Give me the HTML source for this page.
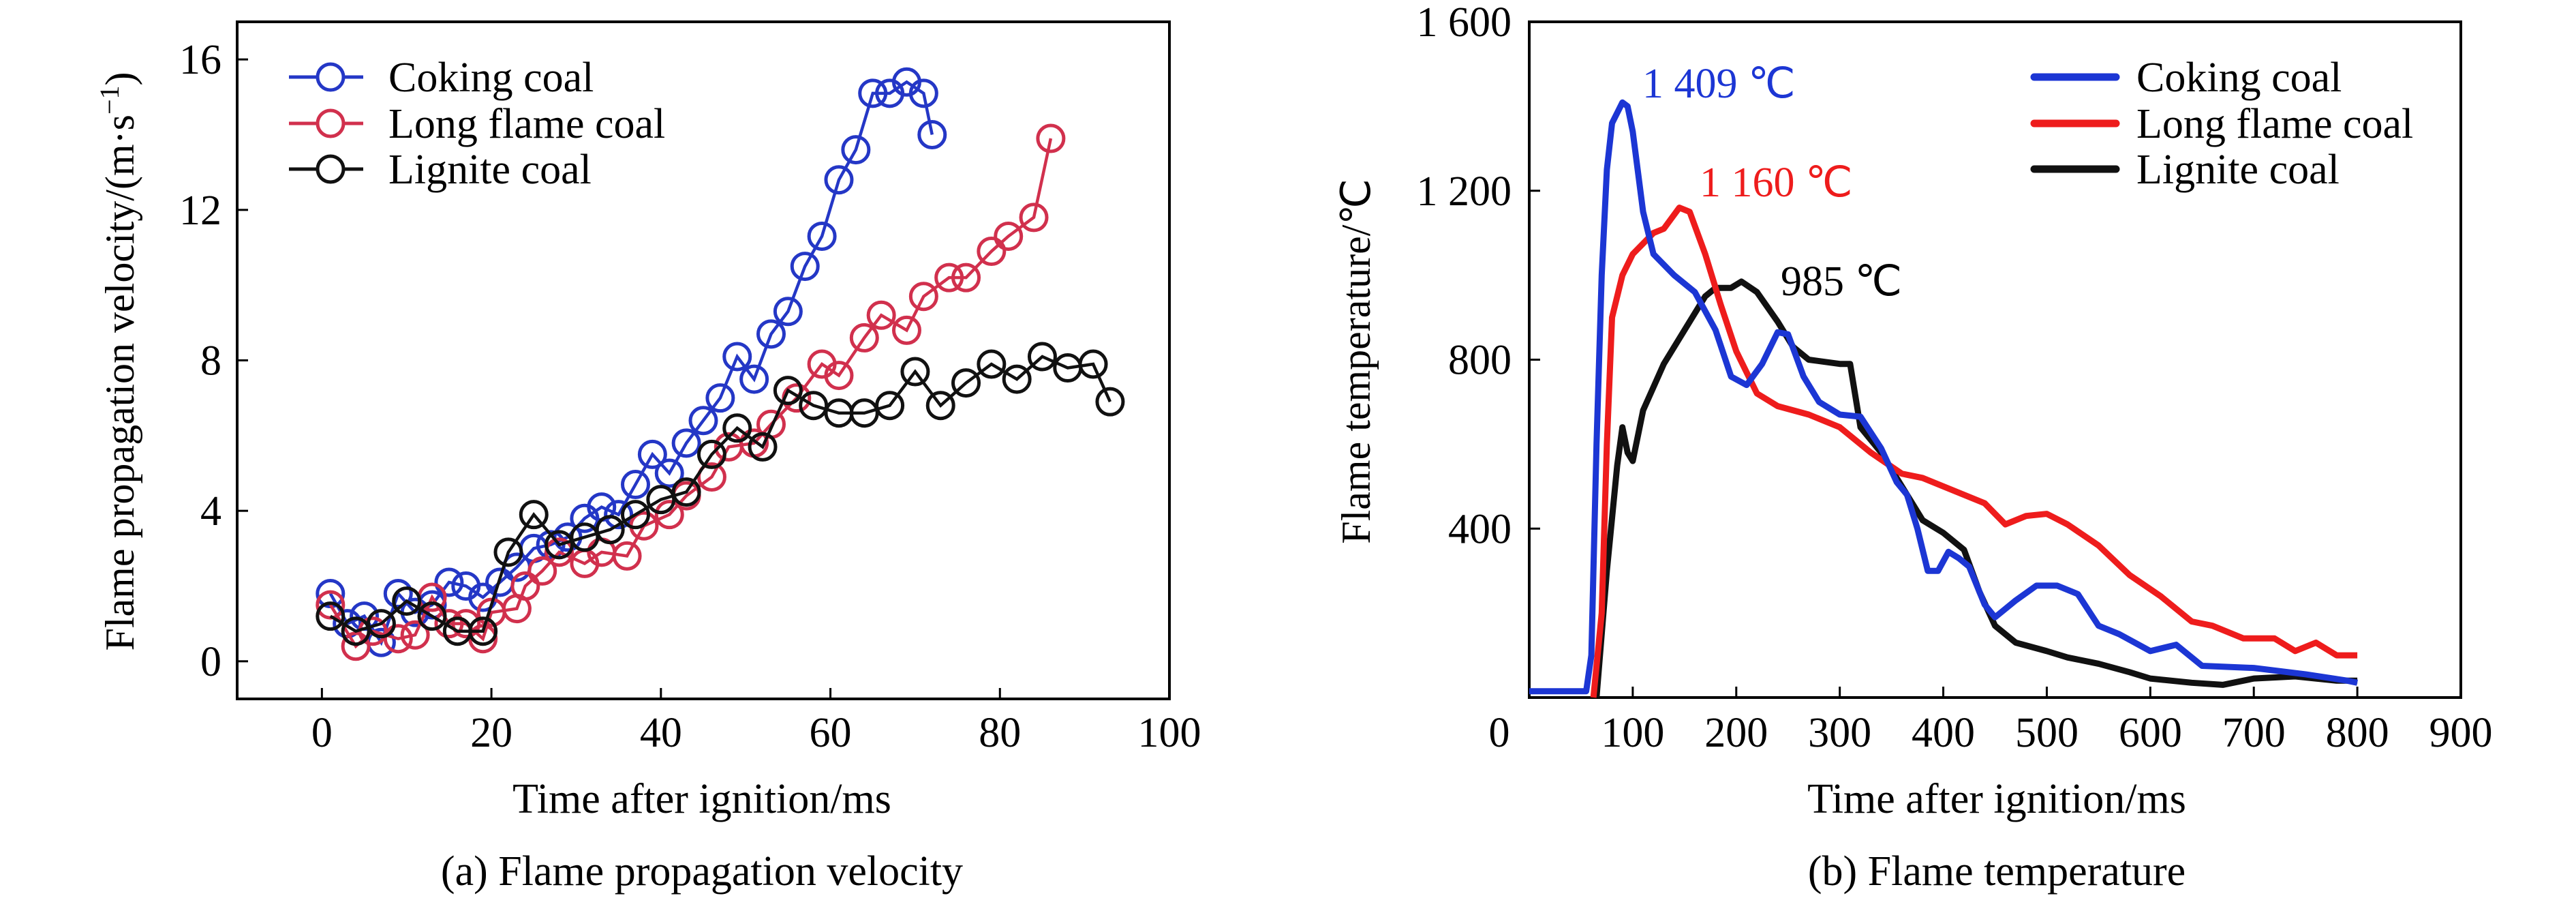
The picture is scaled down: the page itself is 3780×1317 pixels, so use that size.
<!DOCTYPE html>
<html><head><meta charset="utf-8"><style>
html,body{margin:0;padding:0;background:#fff}
svg{display:block}
text{font-family:"Liberation Serif",serif}
</style></head><body>
<svg id="chart" width="3780" height="1317" viewBox="0 0 3780 1317" xmlns="http://www.w3.org/2000/svg"></svg>
<script>
// ---------- Panel (a) data ----------
const cokingVX=[1,3,5,7,9,11,13,15,17,19,21,23,25,27,29,31,33,35,37,39,41,43,45,47,49,51,53,55,57,59,61,63,65,67,69,71,72];
const cokingVY=[1.8,1.0,1.2,0.5,1.8,1.3,1.5,2.1,2.0,1.7,2.1,2.5,3.0,3.1,3.3,3.8,4.1,3.9,4.7,5.5,5.0,5.8,6.4,7.0,8.1,7.5,8.7,9.3,10.5,11.3,12.8,13.6,15.1,15.1,15.4,15.1,14.0];
const longVX=[1,4,6,9,11,13,15,17,19,20,23,24,26,28,31,33,36,38,41,43,46,48,51,53,56,59,61,64,66,69,71,74,76,79,81,84,86];
const longVY=[1.5,0.4,0.8,0.6,0.7,1.7,1.0,1.0,0.6,1.3,1.4,2.0,2.4,2.9,2.6,2.9,2.8,3.6,3.9,4.4,4.9,5.7,5.8,6.3,7.0,7.9,7.6,8.6,9.2,8.8,9.7,10.2,10.2,10.9,11.3,11.8,13.9];
const ligVX=[1,4,7,10,13,16,19,22,25,28,31,34,37,40,43,46,49,52,55,58,61,64,67,70,73,76,79,82,85,88,91,93];
const ligVY=[1.2,0.8,1.0,1.6,1.2,0.8,0.8,2.9,3.9,3.1,3.3,3.5,3.9,4.3,4.5,5.5,6.2,5.7,7.2,6.8,6.6,6.6,6.8,7.7,6.8,7.4,7.9,7.5,8.1,7.8,7.9,6.9];
const aXTicks=[0,20,40,60,80,100];
const aYTicks=[0,4,8,12,16];
// ---------- Panel (b) data ----------
const cokingTX=[0,55,60,65,70,75,80,90,95,100,110,120,140,160,180,195,210,225,240,250,265,280,300,320,340,355,365,375,385,395,405,415,425,440,450,470,490,510,530,550,570,600,625,650,700,750,790,800];
const cokingTY=[15,15,100,600,1000,1250,1360,1409,1400,1340,1150,1050,1000,960,870,760,740,790,865,860,760,700,670,665,590,510,480,400,300,300,345,330,310,220,190,230,265,265,245,170,150,110,125,75,70,55,40,35];
const longTX=[62,70,75,80,90,100,120,130,145,155,170,185,200,220,240,270,300,330,360,380,400,420,440,460,480,500,520,550,580,610,640,660,690,720,740,760,780,800];
const longTY=[0,200,600,900,1000,1050,1100,1110,1160,1150,1050,930,820,720,690,670,640,580,530,520,500,480,460,410,430,435,410,360,290,240,180,170,140,140,110,130,100,100];
const ligTX=[65,75,85,90,95,100,110,130,150,170,180,195,205,220,240,255,270,300,310,320,340,360,380,400,420,435,450,470,500,520,550,580,600,640,670,700,740,780,800];
const ligTY=[0,300,550,640,580,560,680,790,870,950,970,970,985,960,890,830,800,790,790,640,580,500,420,390,350,250,170,130,110,95,80,60,45,35,30,45,50,40,40];
const bXTicks=[0,100,200,300,400,500,600,700,800,900];
const bYTicks=[400,800,1200,1600];
const bYTickLabels=["400","800","1 200","1 600"];

const NS="http://www.w3.org/2000/svg";
const svg=document.getElementById('chart');
function mk(tag,attrs,parent,txt){const e=document.createElementNS(NS,tag);for(const k in attrs)e.setAttribute(k,attrs[k]);if(txt!==undefined)e.textContent=txt;(parent||svg).appendChild(e);return e;}

// ---------- Panel A ----------
const A={l:348,r:1716,t:32,b:1025,x0:-10,x1:100,y0:-1,y1:17};
const ax=v=>A.l+(v-A.x0)/(A.x1-A.x0)*(A.r-A.l);
const ay=v=>A.b-(v-A.y0)/(A.y1-A.y0)*(A.b-A.t);
const gA=mk('g',{});


const frA=mk('rect',{x:A.l,y:A.t,width:A.r-A.l,height:A.b-A.t,fill:'none',stroke:'#000','stroke-width':4},gA);


aXTicks.forEach(v=>{
  const t=mk('line',{x1:ax(v),x2:ax(v),y1:A.b,y2:A.b-16,stroke:'#000','stroke-width':3},gA);
  
  
  const l=mk('text',{x:ax(v),y:1095,'font-size':62,'text-anchor':'middle'},gA,String(v));
  
  
});
aYTicks.forEach(v=>{
  const t=mk('line',{x1:A.l,x2:A.l+16,y1:ay(v),y2:ay(v),stroke:'#000','stroke-width':3},gA);
  
  
  const l=mk('text',{x:325,y:ay(v)+21,'font-size':62,'text-anchor':'end'},gA,String(v));
  
  
});
const axt=mk('text',{x:1030,y:1192,'font-size':62,'text-anchor':'middle'},gA,'Time after ignition/ms');


const ayt=mk('text',{x:0,y:0,'font-size':60,'text-anchor':'middle',transform:'translate(196,530) rotate(-90)'},gA);


ayt.textContent='Flame propagation velocity/(m·s';
mk('tspan',{'baseline-shift':'super','font-size':40},ayt,'−1');
mk('tspan',{},ayt,')');
const capA=mk('text',{x:1030,y:1298,'font-size':62,'text-anchor':'middle'},gA,'(a) Flame propagation velocity');



function seriesA(xs,ys,color,name){
  const g=mk('g',{},gA);
  
  
  const pts=xs.map((x,i)=>ax(x)+','+ay(ys[i])).join(' ');
  mk('polyline',{points:pts,fill:'none',stroke:color,'stroke-width':4.5},g);
  xs.forEach((x,i)=>{
    const c=mk('circle',{cx:ax(x),cy:ay(ys[i]),r:19,fill:'#fff','fill-opacity':0,stroke:color,'stroke-width':5},g);
    
    
  });
}
const aColors=['#2437c6','#d1304d','#111'];
seriesA(cokingVX,cokingVY,aColors[0],'series-coking-coal');
seriesA(longVX,longVY,aColors[1],'series-long-flame-coal');
seriesA(ligVX,ligVY,aColors[2],'series-lignite-coal');
const legNames=['Coking coal','Long flame coal','Lignite coal'];
const legY=[113,181,248];
legNames.forEach((n,i)=>{
  const g=mk('g',{},gA);
  
  
  mk('line',{x1:424,x2:533,y1:legY[i],y2:legY[i],stroke:aColors[i],'stroke-width':5},g);
  mk('circle',{cx:485,cy:legY[i],r:19,fill:'#fff',stroke:aColors[i],'stroke-width':5},g);
  mk('text',{x:570,y:legY[i]+21,'font-size':62},g,n);
});

// ---------- Panel B ----------
const B={l:2244,r:3611,t:32,b:1023,x0:0,x1:900,y0:0,y1:1600};
const bx=v=>B.l+(v-B.x0)/(B.x1-B.x0)*(B.r-B.l);
const by=v=>B.b-(v-B.y0)/(B.y1-B.y0)*(B.b-B.t);
const gB=mk('g',{});


const frB=mk('rect',{x:B.l,y:B.t,width:B.r-B.l,height:B.b-B.t,fill:'none',stroke:'#000','stroke-width':4},gB);


bXTicks.forEach(v=>{
  if(v>0&&v<900){const t=mk('line',{x1:bx(v),x2:bx(v),y1:B.b,y2:B.b-16,stroke:'#000','stroke-width':3},gB);
  
  }
  const lx=v===0?2200:bx(v);
  const l=mk('text',{x:lx,y:1095,'font-size':62,'text-anchor':'middle'},gB,String(v));
  
  
});
bYTicks.forEach((v,i)=>{
  const t=mk('line',{x1:B.l,x2:B.l+16,y1:by(v),y2:by(v),stroke:'#000','stroke-width':3},gB);
  
  
  const l=mk('text',{x:2218,y:by(v)+21,'font-size':62,'text-anchor':'end'},gB,bYTickLabels[i]);
  
  
});
const bxt=mk('text',{x:2930,y:1192,'font-size':62,'text-anchor':'middle'},gB,'Time after ignition/ms');


const byt=mk('text',{x:0,y:0,'font-size':60,'text-anchor':'middle',transform:'translate(2010,530) rotate(-90)'},gB,'Flame temperature/℃');


const capB=mk('text',{x:2930,y:1298,'font-size':62,'text-anchor':'middle'},gB,'(b) Flame temperature');


const bColors=['#1c36d4','#ee1c1c','#111'];
function seriesB(xs,ys,color,name){
  const p=mk('polyline',{points:xs.map((x,i)=>bx(x)+','+by(ys[i])).join(' '),fill:'none',stroke:color,'stroke-width':9,'stroke-linejoin':'round'},gB);
  
  
}
seriesB(ligTX,ligTY,bColors[2],'line-lignite-coal');
seriesB(longTX,longTY,bColors[1],'line-long-flame-coal');
seriesB(cokingTX,cokingTY,bColors[0],'line-coking-coal');
legNames.forEach((n,i)=>{
  const g=mk('g',{},gB);
  
  
  mk('line',{x1:2985,x2:3105,y1:legY[i],y2:legY[i],stroke:bColors[i],'stroke-width':11,'stroke-linecap':'round'},g);
  mk('text',{x:3135,y:legY[i]+21,'font-size':62},g,n);
});
const ann=[['1 409 ℃',2410,143,bColors[0]],['1 160 ℃',2494,288,bColors[1]],['985 ℃',2613,433,'#000']];
ann.forEach(a=>{
  const t=mk('text',{x:a[1],y:a[2],'font-size':62,fill:a[3]},gB,a[0]);
  
  
});
</script>
</body></html>
